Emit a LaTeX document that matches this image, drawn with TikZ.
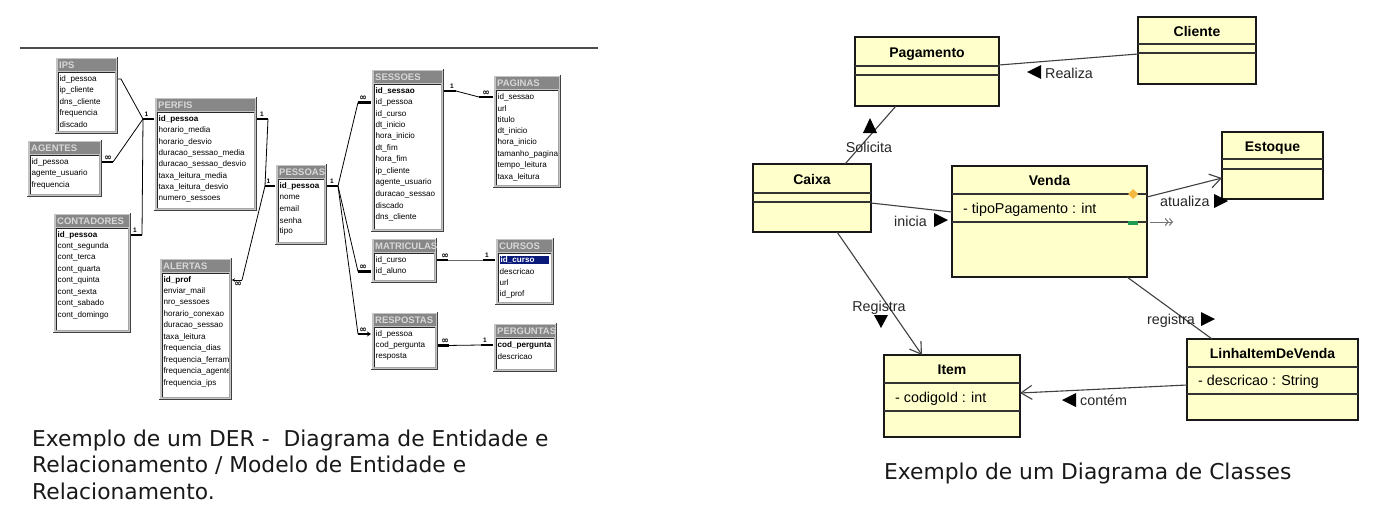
\documentclass[tikz,border=0pt]{standalone}
\usepackage{fontspec}
\setmainfont{Liberation Sans}
\newfontfamily\dvsans{DejaVu Sans}
\usetikzlibrary{calc,arrows.meta}

\definecolor{framegray}{HTML}{C4C4C4}
\definecolor{titlegray}{HTML}{878787}
\definecolor{titletext}{HTML}{D8D8D8}
\definecolor{selblue}{HTML}{0A1A7A}
\definecolor{umlfill}{HTML}{FFFFCC}
\definecolor{aggdiamond}{HTML}{F5B942}
\definecolor{navgreen}{HTML}{1E9A55}

\tikzset{
  dertab/.style={fill=framegray, inner sep=0pt, outer sep=0pt},
  fieldtext/.style={anchor=west, inner sep=0pt, font=\fontsize{8.1}{9}\selectfont},
  titletxt/.style={anchor=west, inner sep=0pt, text=titletext, font=\bfseries\fontsize{9.5}{10}\selectfont},
  relline/.style={line width=0.8pt, black},
  stub/.style={line width=2.6pt, black},
  card/.style={inner sep=0pt, font=\bfseries\fontsize{6.5}{7}\selectfont},
  many/.style={inner sep=0pt, font=\dvsans\bfseries\fontsize{9}{9}\selectfont},
  umlbox/.style={draw=black!90, line width=1.8pt, fill=umlfill, inner sep=0pt, outer sep=0pt},
  umlsep/.style={line width=1.2pt, black!80},
  umltitle/.style={anchor=base, inner sep=0pt, font=\bfseries\fontsize{14}{16}\selectfont},
  umlattr/.style={anchor=base west, inner sep=0pt, font=\fontsize{14.3}{16}\selectfont},
  assoc/.style={line width=1.1pt, black!75},
  openhead/.style={-{Straight Barb[length=11pt,width=14pt]}},
  lbl/.style={inner sep=0pt, font=\fontsize{14.3}{16}\selectfont, text=black!85},
  caption/.style={anchor=base west, inner sep=0pt, text=black!90, font=\dvsans\fontsize{21.8}{26}\selectfont},
}

% highlighted (selected) field of a table
\newcommand\selfield[1]{{\setlength\fboxsep{1pt}\colorbox{selblue}{\makebox[47pt][l]{\textcolor{white}{\textbf{#1}}}}}}

% database table: name, x, y, width, height, title, fields
\newcommand\DERtable[7]{%
  \node[dertab, anchor=north west, minimum width=#4, minimum height=#5] (#1) at (#2,#3) {};
  \draw[white, line width=1pt] ({#2+0.5},{#3+#5}) -- ({#2+0.5},{#3+0.5}) -- ({#2+#4},{#3+0.5});
  \draw[black!75, line width=1pt] ({#2},{#3+#5-0.5}) -- ({#2+#4-0.5},{#3+#5-0.5}) -- ({#2+#4-0.5},{#3});
  \fill[titlegray] ({#2+2.5},{#3+2}) rectangle ({#2+#4-2.5},{#3+13.5});
  \node[titletxt] (#1-t) at ({#2+4},{#3+8}) {#6};
  \fill[white] ({#2+3},{#3+15}) rectangle ({#2+#4-3},{#3+#5-3});
  \draw[black!35, line width=0.8pt] ({#2+3},{#3+#5-3}) -- ({#2+#4-3},{#3+#5-3}) -- ({#2+#4-3},{#3+15});
  \draw[black!85, line width=0.8pt] ({#2+3},{#3+#5-3}) -- ({#2+3},{#3+15}) -- ({#2+#4-3},{#3+15});
  \begin{scope}
    \clip ({#2+3.5},{#3+15.5}) rectangle ({#2+#4-3.5},{#3+#5-3.5});
    \foreach \f [count=\i] in {#7} {
      \node[fieldtext] (#1-\i) at ({#2+4.5},{#3+22+(\i-1)*11.45}) {\f};
    }
  \end{scope}
}

% class box: name, x1, y1, x2, y2, first separator, second separator, title, attribute
\newcommand\UMLclass[9]{%
  \node[umlbox, minimum width={#4-#2}, minimum height={#5-#3}] (#1) at ({(#2+#4)/2},{(#3+#5)/2}) {};
  \draw[umlsep] (#2,#6) -- (#4,#6);
  \draw[umlsep] (#2,#7) -- (#4,#7);
  \node[umltitle] (#1-t) at ({(#2+#4)/2},{(#3+#6)/2+5.5}) {#8};
  \if\relax\detokenize{#9}\relax\else
    \node[umlattr] (#1-a) at ({#2+11},{(#6+#7)/2+5}) {#9};
  \fi
}

% filled direction triangles next to association names (apex given)
\newcommand\triL[2]{\fill[black] (#1,#2) -- ({#1+14},{#2-7}) -- ({#1+14},{#2+7}) -- cycle;}
\newcommand\triR[2]{\fill[black] (#1,#2) -- ({#1-14},{#2-7}) -- ({#1-14},{#2+7}) -- cycle;}
\newcommand\triU[2]{\fill[black] (#1,#2) -- ({#1-7},{#2+15}) -- ({#1+7},{#2+15}) -- cycle;}
\newcommand\triD[2]{\fill[black] (#1,#2) -- ({#1-7},{#2-13}) -- ({#1+7},{#2-13}) -- cycle;}

\begin{document}
\begin{tikzpicture}[x=1pt,y=-1pt]
\useasboundingbox (0,0) rectangle (1376,531);
\fill[white] (0,0) rectangle (1376,531);

% ---------------- entity-relationship model ----------------
\draw[line width=1.6pt, black!70] (20,48) -- (598,48);

\DERtable{ips}{55}{57}{63}{77}{IPS}{id\_pessoa, ip\_cliente, dns\_cliente, frequencia, discado}
\DERtable{agentes}{27}{140}{75}{57}{AGENTES}{id\_pessoa, agente\_usuario, frequencia}
\DERtable{contadores}{53}{213}{78}{120}{CONTADORES}{\textbf{id\_pessoa}, cont\_segunda, cont\_terca, cont\_quarta, cont\_quinta, cont\_sexta, cont\_sabado, cont\_domingo}
\DERtable{perfis}{154}{97}{103}{114}{PERFIS}{\textbf{id\_pessoa}, horario\_media, horario\_desvio, duracao\_sessao\_media, duracao\_sessao\_desvio, taxa\_leitura\_media, taxa\_leitura\_desvio, numero\_sessoes}
\DERtable{pessoas}{275}{164}{52}{81}{PESSOAS}{\textbf{id\_pessoa}, nome, email, senha, tipo}
\DERtable{alertas}{159}{258}{73}{142}{ALERTAS}{\textbf{id\_prof}, enviar\_mail, nro\_sessoes, horario\_conexao, duracao\_sessao, taxa\_leitura, frequencia\_dias, frequencia\_ferramentas, frequencia\_agentes, frequencia\_ips}
\DERtable{sessoes}{371}{69}{73}{163}{SESSOES}{\textbf{id\_sessao}, id\_pessoa, id\_curso, dt\_inicio, hora\_inicio, dt\_fim, hora\_fim, ip\_cliente, agente\_usuario, duracao\_sessao, discado, dns\_cliente}
\DERtable{paginas}{493}{75}{68}{113}{PAGINAS}{id\_sessao, url, titulo, dt\_inicio, hora\_inicio, tamanho\_pagina, tempo\_leitura, taxa\_leitura}
\DERtable{matriculas}{371}{238}{66}{45}{MATRICULAS}{id\_curso, id\_aluno}
\DERtable{cursos}{495}{238}{59}{67}{CURSOS}{\selfield{id\_curso}, descricao, url, id\_prof}
\DERtable{respostas}{371}{312}{67}{58}{RESPOSTAS}{id\_pessoa, cod\_pergunta, resposta}
\DERtable{perguntas}{493}{323}{64}{49}{PERGUNTAS}{\textbf{cod\_pergunta}, descricao}

% PERFIS.id_pessoa <- IPS, AGENTES, CONTADORES
\coordinate (jperfis) at ($(perfis.west |- perfis-1)+(-11,0)$);
\draw[stub] (jperfis) -- (perfis.west |- perfis-1);
\node[card, above=2pt] (k-perfis-l) at ($(jperfis)+(3.5,0)$) {1};
\draw[relline] (ips.east |- ips-1) -- ++(3,0) -- (jperfis);
\draw[stub] (agentes.east |- agentes-1) -- ++(11,0) coordinate (sag);
\node[many, above=1.5pt] (k-agentes) at ($(agentes.east |- agentes-1)+(6,0)$) {∞};
\draw[relline] (sag) -- (jperfis);
\draw[stub] (contadores.east |- contadores-1) -- ++(11,0) coordinate (sct);
\node[card, above=2pt] (k-contadores) at ($(contadores.east |- contadores-1)+(4,0)$) {1};
\draw[relline] (sct) -- (jperfis);

% PESSOAS.id_pessoa <- PERFIS, ALERTAS
\draw[stub] (perfis.east |- perfis-1) -- ++(11,0) coordinate (spf);
\node[card, above=2pt] (k-perfis-r) at ($(perfis.east |- perfis-1)+(5,0)$) {1};
\coordinate (jpes) at ($(pessoas.west |- pessoas-1)+(-10,0)$);
\draw[stub] (jpes) -- (pessoas.west |- pessoas-1);
\node[card, above=2pt] (k-pessoas-l) at ($(jpes)+(3.5,0)$) {1};
\draw[relline] (spf) -- (jpes);
\draw[relline, {Stealth[length=3pt,width=3.5pt]}-] (alertas.east |- alertas-1) -- ++(10,0) coordinate (sal);
\node[many, below=1.5pt] (k-alertas) at ($(alertas.east |- alertas-1)+(6,0)$) {∞};
\draw[relline] (sal) -- (jpes);

% PESSOAS.id_pessoa -> SESSOES, MATRICULAS, RESPOSTAS
\draw[stub] (pessoas.east |- pessoas-1) -- ++(11,0) coordinate (sps);
\node[card, above=2pt] (k-pessoas-r) at ($(pessoas.east |- pessoas-1)+(5,0)$) {1};
\coordinate (jses) at ($(sessoes.west |- sessoes-2)+(-13,0)$);
\draw[stub] (jses) -- (sessoes.west |- sessoes-2);
\node[many, above=1.5pt] (k-sessoes-l) at ($(jses)+(5,0)$) {∞};
\draw[relline] (sps) -- (jses);
\coordinate (jmat) at ($(matriculas.west |- matriculas-2)+(-13,0)$);
\draw[stub] (jmat) -- (matriculas.west |- matriculas-2);
\node[many, above=1.5pt] (k-matriculas-l) at ($(jmat)+(5,0)$) {∞};
\draw[relline] (sps) -- (jmat);
\coordinate (jres) at ($(respostas.west |- respostas-1)+(-13,0)$);
\draw[stub, -{Stealth[length=4pt,width=5pt]}] (jres) -- (respostas.west |- respostas-1);
\node[many, above=1.5pt] (k-respostas-l) at ($(jres)+(5,0)$) {∞};
\draw[relline] (sps) -- (jres);

% SESSOES.id_sessao -> PAGINAS
\draw[stub] (sessoes.east |- sessoes-1) -- ++(12,0) coordinate (sss);
\node[card, above=2pt] (k-sessoes-r) at ($(sessoes.east |- sessoes-1)+(8,0)$) {1};
\coordinate (jpag) at ($(paginas.west |- paginas-1)+(-14,0)$);
\draw[stub] (jpag) -- (paginas.west |- paginas-1);
\node[many, above=1.5pt] (k-paginas) at ($(jpag)+(7,0)$) {∞};
\draw[relline] (sss) -- (jpag);

% MATRICULAS.id_curso -> CURSOS
\draw[stub] (matriculas.east |- matriculas-1) -- ++(11,0) coordinate (smt);
\node[many, above=1.5pt] (k-matriculas-r) at ($(matriculas.east |- matriculas-1)+(8,0)$) {∞};
\coordinate (jcur) at ($(cursos.west |- cursos-1)+(-12,0)$);
\draw[stub] (jcur) -- (cursos.west |- cursos-1);
\node[card, above=2pt] (k-cursos) at ($(jcur)+(4,0)$) {1};
\draw[relline, black!60] (smt) -- (jcur);

% RESPOSTAS.cod_pergunta -> PERGUNTAS
\draw[stub] (respostas.east |- respostas-2) -- ++(11,0) coordinate (srp);
\node[many, above=1.5pt] (k-respostas-r) at ($(respostas.east |- respostas-2)+(7,0)$) {∞};
\coordinate (jper) at ($(perguntas.west |- perguntas-1)+(-12,0)$);
\draw[stub] (jper) -- (perguntas.west |- perguntas-1);
\node[card, above=2pt] (k-perguntas) at ($(jper)+(4,0)$) {1};
\draw[relline] (srp) -- (jper);

\node[caption] (cap1) at (32,446) {Exemplo de um DER -\ \ Diagrama de Entidade e};
\node[caption] (cap2) at (32,472.5) {Relacionamento / Modelo de Entidade e};
\node[caption] (cap3) at (32,499) {Relacionamento.};

% ---------------- class diagram ----------------
\UMLclass{pagamento}{855}{37}{999}{106}{66}{75}{Pagamento}{}
\UMLclass{cliente}{1138}{17}{1256}{84}{44}{53}{Cliente}{}
\UMLclass{estoque}{1222}{132}{1323}{199}{159}{169}{Estoque}{}
\UMLclass{caixa}{753}{164}{871}{232}{193}{202}{Caixa}{}
\UMLclass{venda}{952}{166}{1147}{277}{194}{222}{Venda}{- tipoPagamento : int}
\UMLclass{item}{884}{355}{1020}{437}{383}{411}{Item}{- codigoId : int}
\UMLclass{linha}{1187}{339}{1358}{420}{367}{394}{LinhaItemDeVenda}{- descricao : String}

% associations
\draw[assoc] (cliente.west |- 0,54) -- (pagamento.east |- 0,65);
\draw[assoc] (caixa.north -| 845,0) -- (pagamento.south -| 896,0);
\draw[assoc] (caixa.east |- 0,203) -- (venda.west |- 0,212);
\draw[assoc, openhead] (caixa.south -| 837,0) -- (item.north -| 922,0);
\draw[assoc, openhead] (venda.east |- 0,197) -- (estoque.west |- 0,178);
\draw[assoc] (venda.south -| 1127,0) -- (linha.north -| 1212,0);
\draw[assoc, openhead] (linha.west |- 0,385) -- (item.east |- 0,393);

% association names with reading direction
\triL{1027}{72}   \node[lbl, anchor=base west] (l-realiza) at (1045,78) {Realiza};
\triU{870}{118}   \node[lbl, anchor=base] (l-solicita) at (869,152) {Solicita};
\triR{948}{220}   \node[lbl, anchor=base east] (l-inicia) at (927,226) {inicia};
\triD{881}{328}   \node[lbl, anchor=base] (l-registra) at (879,311) {Registra};
\triR{1228}{201}  \node[lbl, anchor=base west] (l-atualiza) at (1160,206) {atualiza};
\triR{1215}{319}  \node[lbl, anchor=base west] (l-registra2) at (1147,324) {registra};
\triL{1062}{400}  \node[lbl, anchor=base west] (l-contem) at (1080,405) {contém};

% aggregation / navigability markers on Venda
\fill[aggdiamond] (1128,194) -- (1133,189) -- (1138,194) -- (1133,199) -- cycle;
\fill[navgreen] (1128,220.5) rectangle (1138,224.5);
\draw[line width=1pt, black!55, -{Straight Barb[length=3pt,width=7pt] Straight Barb[length=3pt,width=7pt]}] (venda.east |- 0,222) ++(3,0) -- ++(23,0);

\node[caption] (cap4) at (884,479) {Exemplo de um Diagrama de Classes};
\end{tikzpicture}
\end{document}
